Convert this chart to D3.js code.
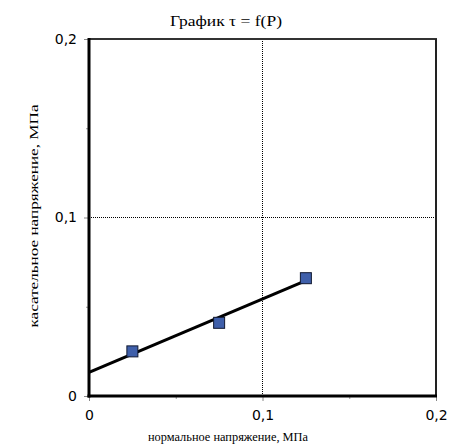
<!DOCTYPE html>
<html><head><meta charset="utf-8">
<script src="https://cdn.jsdelivr.net/npm/d3@7/dist/d3.min.js"></script>
<style>body{margin:0;background:#fff}svg{display:block}</style>
</head><body>
<script>
// data
const pressure = [0.025, 0.075, 0.125];       // нормальное напряжение, МПа
const shear    = [0.025, 0.041, 0.066];       // касательное напряжение, МПа
const trendX   = [0, 0.125];
const trendY   = [0.0133, 0.0646];
const xTicks = [0, 0.1, 0.2];
const yTicks = [0, 0.1, 0.2];
const minorTicks = [0.05, 0.15];
const tickLabels = ["0", "0,1", "0,2"];
const titleText = "График τ = f(P)";
const xTitle = "нормальное напряжение, МПа";
const yTitle = "касательное напряжение, МПа";

const W = 453, H = 446;
const svg = d3.select("body").append("svg").attr("width", W).attr("height", H);
const x = d3.scaleLinear().domain([0, 0.2]).range([89, 436]);
const y = d3.scaleLinear().domain([0, 0.2]).range([396, 39]);

// title
svg.append("text").attr("x", 226).attr("y", 26).attr("text-anchor", "middle")
  .attr("font-family", "Liberation Serif, Times New Roman, serif").attr("font-size", 14)
  .attr("textLength", 112).attr("lengthAdjust", "spacingAndGlyphs")
  .text(titleText);

// gridlines (dotted)
svg.append("line").attr("x1", x(0.1)).attr("x2", x(0.1)).attr("y1", y(0.2)).attr("y2", y(0))
  .attr("stroke", "#000").attr("stroke-width", 1).attr("stroke-dasharray", "1,1");
svg.append("line").attr("x1", x(0)).attr("x2", x(0.2)).attr("y1", y(0.1)).attr("y2", y(0.1))
  .attr("stroke", "#000").attr("stroke-width", 1).attr("stroke-dasharray", "1,1");

// frame top/right
svg.append("line").attr("x1", x(0)).attr("x2", x(0.2) + 1).attr("y1", y(0.2)).attr("y2", y(0.2))
  .attr("stroke", "#333").attr("stroke-width", 2);
svg.append("line").attr("x1", x(0.2)).attr("x2", x(0.2)).attr("y1", y(0.2)).attr("y2", y(0))
  .attr("stroke", "#222").attr("stroke-width", 2);

// axes
const fontTick = "DejaVu Sans, Verdana, sans-serif";
const xAxis = d3.axisBottom(x).tickValues(xTicks).tickSize(5).tickPadding(9)
  .tickFormat((d, i) => tickLabels[i]);
const gx = svg.append("g").attr("transform", `translate(0,${y(0)})`).call(xAxis);
gx.select(".domain").remove();
gx.selectAll(".tick line").attr("stroke", "#888");
gx.selectAll("text").attr("font-family", fontTick).attr("font-size", 14).attr("fill", "#000");
svg.append("g").attr("transform", `translate(0,${y(0)})`)
  .call(d3.axisBottom(x).tickValues(minorTicks).tickSize(3).tickFormat(""))
  .call(g => g.select(".domain").remove())
  .selectAll(".tick line").attr("stroke", "#999");

const yAxis = d3.axisLeft(y).tickValues(yTicks).tickSize(5).tickPadding(7)
  .tickFormat((d, i) => tickLabels[i]);
const gy = svg.append("g").attr("transform", `translate(${x(0)},0)`).call(yAxis);
gy.select(".domain").remove();
gy.selectAll(".tick line").attr("stroke", "#888");
gy.selectAll("text").attr("font-family", fontTick).attr("font-size", 14).attr("fill", "#000");
svg.append("g").attr("transform", `translate(${x(0)},0)`)
  .call(d3.axisLeft(y).tickValues(minorTicks).tickSize(3).tickFormat(""))
  .call(g => g.select(".domain").remove())
  .selectAll(".tick line").attr("stroke", "#999");

// thick left & bottom axis lines
svg.append("line").attr("x1", x(0)).attr("x2", x(0)).attr("y1", y(0.2) - 1).attr("y2", y(0) + 1.5)
  .attr("stroke", "#000").attr("stroke-width", 3);
svg.append("line").attr("x1", x(0) - 1.5).attr("x2", x(0.2) + 1).attr("y1", y(0)).attr("y2", y(0))
  .attr("stroke", "#000").attr("stroke-width", 3);

// trend line
svg.append("path")
  .datum(trendX.map((d, i) => [d, trendY[i]]))
  .attr("d", d3.line().x(d => x(d[0])).y(d => y(d[1])))
  .attr("fill", "none").attr("stroke", "#000").attr("stroke-width", 3);

// markers
const s = 11;
svg.selectAll("rect.pt").data(pressure.map((d, i) => [d, shear[i]])).join("rect")
  .attr("class", "pt")
  .attr("x", d => x(d[0]) - s / 2).attr("y", d => y(d[1]) - s / 2)
  .attr("width", s).attr("height", s)
  .attr("fill", "#3F5FAA").attr("stroke", "#101830").attr("stroke-width", 1);

// axis titles
const fontTitle = "Liberation Serif, Times New Roman, serif";
svg.append("text").attr("x", 228).attr("y", 441).attr("text-anchor", "middle")
  .attr("font-family", fontTitle).attr("font-size", 12)
  .attr("textLength", 160).attr("lengthAdjust", "spacingAndGlyphs")
  .text(xTitle);
svg.append("text").attr("transform", "translate(38,216) rotate(-90)").attr("text-anchor", "middle")
  .attr("font-family", fontTitle).attr("font-size", 12)
  .attr("textLength", 223).attr("lengthAdjust", "spacingAndGlyphs")
  .text(yTitle);
</script>
</body></html>
